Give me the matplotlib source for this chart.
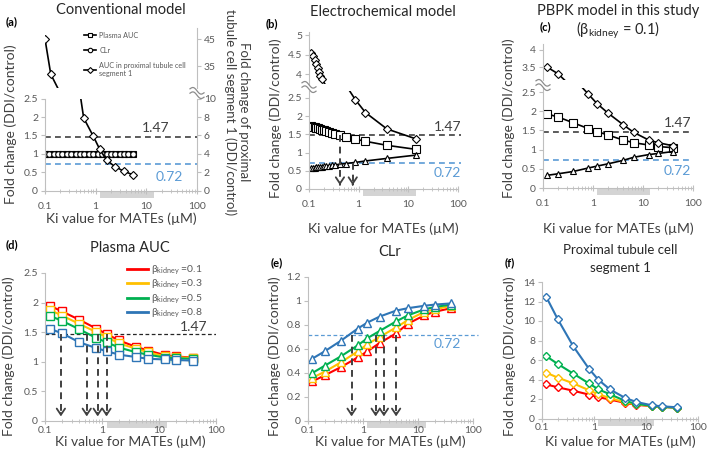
import numpy as np
import matplotlib
matplotlib.use("Agg")
import matplotlib.pyplot as plt
from matplotlib.lines import Line2D
from matplotlib.patches import Rectangle
import matplotlib.transforms as mtrans

plt.rcParams['font.family'] = ['Lato', 'DejaVu Sans']
plt.rcParams['mathtext.fontset'] = 'custom'
plt.rcParams['mathtext.rm'] = 'Lato'
plt.rcParams['mathtext.it'] = 'Lato:italic'

# ---------------- data ----------------
xticks = [0.1, 1, 10, 100]
xtick_labels = ['0.1', '1', '10', '100']
gray_range = [1.2, 14]

# (a) conventional model
a_x = [0.1, 0.12, 0.15, 0.18, 0.22, 0.27, 0.33, 0.4, 0.49, 0.6, 0.73, 0.9, 1.1, 1.35, 1.65, 2.0, 2.45, 3.0, 3.6, 4.4, 5.5]
a_auc = [1.0, 1.0, 1.0, 1.0, 1.0, 1.0, 1.0, 1.0, 1.0, 1.0, 1.0, 1.0, 1.0, 1.0, 1.0, 1.0, 1.0, 1.0, 1.0, 1.0, 1.0]
a_clr = [1.0, 1.0, 1.0, 1.0, 1.0, 1.0, 1.0, 1.0, 1.0, 1.0, 1.0, 1.0, 1.0, 1.0, 1.0, 1.0, 1.0, 1.0, 1.0, 1.0, 1.0]
a_prox_x = [0.1, 0.13, 0.58, 0.9, 1.2, 1.65, 2.4, 3.6, 5.5]
a_prox = [45, 32, 7.9, 5.9, 4.5, 3.3, 2.6, 2.1, 1.7]

# (b) electrochemical model
b_x = [0.11, 0.12, 0.13, 0.14, 0.15, 0.165, 0.18, 0.2, 0.22, 0.25, 0.29, 0.34, 0.42, 0.55, 0.86, 1.37, 3.7, 14]
b_auc = [1.72, 1.71, 1.70, 1.68, 1.67, 1.65, 1.63, 1.61, 1.59, 1.57, 1.55, 1.52, 1.49, 1.44, 1.37, 1.31, 1.20, 1.09]
b_clr = [0.58, 0.585, 0.59, 0.595, 0.60, 0.61, 0.615, 0.62, 0.63, 0.64, 0.65, 0.665, 0.68, 0.70, 0.73, 0.77, 0.84, 0.93]
b_prox_x = [0.11, 0.12, 0.13, 0.14, 0.15, 0.16, 0.17, 0.18, 0.86, 1.37, 3.7, 14]
b_prox = [4.55, 4.45, 4.35, 4.25, 4.15, 4.05, 3.95, 3.88, 2.45, 2.1, 1.65, 1.38]
b_arrows_auc = [0.42]
b_arrows_clr = [0.76]

# (c) PBPK model (beta_kidney = 0.1)
c_x = [0.12, 0.2, 0.4, 0.8, 1.2, 2, 4, 6.5, 13, 20, 40]
c_auc = [1.93, 1.85, 1.70, 1.55, 1.47, 1.38, 1.25, 1.18, 1.12, 1.08, 1.05]
c_clr = [0.33, 0.37, 0.43, 0.52, 0.57, 0.63, 0.72, 0.80, 0.87, 0.90, 0.95]
c_prox_x = [0.12, 0.2, 0.8, 1.2, 2, 4, 6.5, 13, 20, 40]
c_prox = [3.5, 3.3, 2.45, 2.2, 1.95, 1.65, 1.45, 1.25, 1.18, 1.1]

# (d)-(f) beta_kidney sensitivity
ki = [0.12, 0.2, 0.4, 0.8, 1.2, 2, 4, 6.5, 13, 20, 40]
betas = ['0.1', '0.3', '0.5', '0.8']
colors = ['#FF0000', '#FFC000', '#00B050', '#2E75B6']
d_auc = {
    '0.1': [1.95, 1.85, 1.71, 1.56, 1.47, 1.36, 1.25, 1.19, 1.11, 1.09, 1.07],
    '0.3': [1.88, 1.78, 1.64, 1.50, 1.42, 1.31, 1.22, 1.16, 1.09, 1.08, 1.06],
    '0.5': [1.78, 1.69, 1.55, 1.40, 1.33, 1.24, 1.16, 1.12, 1.07, 1.06, 1.05],
    '0.8': [1.56, 1.48, 1.33, 1.23, 1.18, 1.12, 1.08, 1.05, 1.04, 1.03, 1.02],
}
e_clr = {
    '0.1': [0.33, 0.38, 0.45, 0.53, 0.58, 0.65, 0.73, 0.81, 0.88, 0.91, 0.94],
    '0.3': [0.36, 0.41, 0.49, 0.58, 0.64, 0.70, 0.78, 0.84, 0.91, 0.93, 0.96],
    '0.5': [0.40, 0.46, 0.54, 0.63, 0.69, 0.75, 0.83, 0.88, 0.93, 0.95, 0.97],
    '0.8': [0.52, 0.58, 0.67, 0.77, 0.82, 0.87, 0.92, 0.94, 0.96, 0.97, 0.98],
}
f_prox = {
    '0.1': [3.5, 3.2, 2.85, 2.45, 2.2, 1.95, 1.6, 1.4, 1.27, 1.2, 1.1],
    '0.3': [4.7, 4.2, 3.6, 2.9, 2.5, 2.1, 1.65, 1.45, 1.28, 1.2, 1.1],
    '0.5': [6.4, 5.6, 4.6, 3.6, 3.0, 2.5, 1.8, 1.5, 1.3, 1.2, 1.1],
    '0.8': [12.5, 10.2, 7.4, 5.1, 4.0, 3.0, 2.1, 1.7, 1.35, 1.25, 1.15],
}
d_arrows = [0.19, 0.54, 0.84, 1.2]
e_arrows = [0.62, 1.7, 2.4, 4.0]
thr_auc = 1.47
thr_clr = 0.72

# ---------------- figure ----------------
W, H = 709, 458
fig = plt.figure(figsize=(W / 100, H / 100), dpi=100)
SP = '#bfbfbf'
TC = '#595959'
DARK = '#404040'
BLUE_T = '#5B9BD5'


def px_axes(l, t, r, b):
    return fig.add_axes([l / W, 1 - b / H, (r - l) / W, (b - t) / H])


def style(ax, xaxis=True, left=True, pad=6):
    ax.set_xscale('log')
    ax.set_xlim(0.1, 100)
    ax.patch.set_alpha(0)
    for s in ['top', 'right']:
        ax.spines[s].set_visible(False)
    ax.spines['left'].set_visible(left)
    ax.spines['left'].set_color(SP)
    ax.spines['bottom'].set_color(SP)
    ax.spines['left'].set_linewidth(0.8)
    ax.spines['bottom'].set_linewidth(0.8)
    ax.tick_params(axis='y', direction='out', length=3, color=SP, labelsize=7.5,
                   labelcolor=TC, pad=2, width=0.8)
    if xaxis:
        ax.set_xticks(xticks)
        ax.set_xticklabels(xtick_labels)
        ax.tick_params(axis='x', which='major', direction='inout', length=4, color=SP,
                       labelsize=7.5, labelcolor=TC, pad=pad, width=0.8)
        ax.tick_params(axis='x', which='minor', direction='inout', length=3, color=SP, width=0.6)
        ax.xaxis.set_minor_formatter(matplotlib.ticker.NullFormatter())
    else:
        ax.spines['bottom'].set_visible(False)
        ax.tick_params(axis='x', which='both', bottom=False, labelbottom=False)


def gray_bar(ax, height_px):
    tr = mtrans.blended_transform_factory(ax.transData, ax.transAxes)
    h = ax.get_position().height * H
    ax.add_patch(Rectangle((gray_range[0], -(height_px + 1) / h), gray_range[1] - gray_range[0],
                           height_px / h, transform=tr, color='#d4d4d4', clip_on=False, zorder=1,
                           lw=0))


def squiggle(xp, yp):
    t = np.linspace(-1, 1, 30)
    for off in (-2.2, 2.2):
        xs = xp + 7 * t
        ys = yp + off + 2.2 * np.sin(np.pi * t) + 2.0 * t
        ln = Line2D(xs / W, 1 - ys / H, transform=fig.transFigure, color='#8c8c8c', lw=0.9)
        fig.add_artist(ln)


def arrow(ax, x, ytop, ytip, headlen):
    ax.plot([x, x], [ytop, ytip + headlen], ls=(0, (3.5, 2.5)), color=DARK, lw=1.4, zorder=5)
    ax.annotate('', xy=(x, ytip), xytext=(x, ytip + headlen * 1.2),
                arrowprops=dict(arrowstyle='->,head_width=0.3,head_length=0.45', color=DARK, lw=1.3),
                zorder=6)


def ftext(x, y, s, **kw):
    kw.setdefault('ha', 'center')
    kw.setdefault('va', 'center')
    fig.text(x / W, 1 - y / H, s, **kw)


mk_bk = dict(color='black', lw=1.2, markerfacecolor='white', markeredgecolor='black', markeredgewidth=0.8)

# ----- (a) -----
axa = px_axes(45, 98.7, 197, 190.5)
axa.set_ylim(0, 2.5)
axa.axhline(thr_auc, color=DARK, ls=(0, (3.5, 2.5)), lw=1.2)
axa.axhline(thr_clr, color=BLUE_T, ls=(0, (3.5, 2.5)), lw=1.2)
axa.plot(a_x, a_auc, marker='s', ms=4.2, **mk_bk)
axa.plot(a_x, a_clr, marker='o', ms=4.0, **mk_bk)
axar = axa.twinx()
axar.set_ylim(0, 10)
for s in ['top', 'left', 'bottom']:
    axar.spines[s].set_visible(False)
axar.spines['right'].set_color(SP)
axar.spines['right'].set_linewidth(0.8)
axar.set_yticks([0, 2, 4, 6, 8, 10])
axar.tick_params(axis='y', direction='out', length=3, color=SP, labelsize=7.5, labelcolor=TC, pad=2)
axar.plot(a_prox_x, a_prox, marker='D', ms=3.6, **mk_bk)
style(axa, pad=6)
axa.set_ylim(0, 2.5)
axa.set_yticks([0, 0.5, 1, 1.5, 2, 2.5])
axa.set_yticklabels(['0', '0.5', '1', '1.5', '2', '2.5'])
axar.tick_params(axis='x', which='both', bottom=False, top=False, labelbottom=False, labeltop=False)
ta = mtrans.blended_transform_factory(axa.transAxes, axa.transData)
axa.text(0.82, thr_auc + 0.08, '1.47', transform=ta, ha='right', va='bottom', fontsize=10, color=DARK)
axa.text(0.91, thr_clr - 0.2, '0.72', transform=ta, ha='right', va='top', fontsize=10, color=BLUE_T)
gray_bar(axa, 6)

axau = px_axes(45, 28, 197, 88)
axau.set_xscale('log'); axau.set_xlim(0.1, 100)
axau.patch.set_alpha(0)
axau.set_ylim(26.9, 49.1)
for s in ['top', 'left', 'bottom']:
    axau.spines[s].set_visible(False)
axau.spines['right'].set_color(SP)
axau.spines['right'].set_linewidth(0.8)
axau.yaxis.tick_right()
axau.set_yticks([35, 45])
axau.tick_params(axis='y', direction='out', length=3, color=SP, labelsize=7.5, labelcolor=TC, pad=2)
axau.tick_params(axis='x', which='both', bottom=False, labelbottom=False)
axau.plot(a_prox_x, a_prox, marker='D', ms=3.6, **mk_bk)
leg_h = [Line2D([], [], marker='s', ms=3.2, **mk_bk),
         Line2D([], [], marker='o', ms=3.2, **mk_bk),
         Line2D([], [], marker='D', ms=3.0, **mk_bk)]
lg = axau.legend(leg_h, ['Plasma AUC', 'CLr', 'AUC in proximal tubule cell\nsegment 1'],
                 loc='upper left', bbox_to_anchor=(84 / W, 1 - 32 / H), bbox_transform=fig.transFigure,
                 fontsize=5.2, frameon=False, handlelength=1.6, handletextpad=0.5, labelspacing=1.1,
                 borderpad=0, borderaxespad=0)
for t in lg.get_texts():
    t.set_color(TC)
squiggle(197, 93)

# ----- (b) -----
axb = px_axes(309, 90.7, 458, 189)
style(axb, pad=6)
axb.set_ylim(0, 2.7)
axb.set_yticks([0, 0.5, 1, 1.5, 2, 2.5])
axb.set_yticklabels(['0', '0.5', '1', '1.5', '2', '2.5'])
tb = mtrans.blended_transform_factory(axb.transAxes, axb.transData)
axb.plot([0, 1.02], [thr_auc, thr_auc], transform=tb, color=DARK, ls=(0, (3.5, 2.5)), lw=1.2, clip_on=False)
axb.plot([0, 1.02], [thr_clr, thr_clr], transform=tb, color=BLUE_T, ls=(0, (3.5, 2.5)), lw=1.2, clip_on=False)
axb.plot(b_x, b_auc, marker='s', ms=5.5, **mk_bk)
axb.plot(b_x, b_clr, marker='^', ms=5.0, **mk_bk)
axb.plot(b_prox_x, b_prox, marker='D', ms=4.0, **mk_bk)
for x in b_arrows_auc:
    arrow(axb, x, thr_auc, 0.03, 0.15)
for x in b_arrows_clr:
    arrow(axb, x, thr_clr, 0.03, 0.15)
axb.text(1.02, thr_auc + 0.07, '1.47', transform=tb, ha='right', va='bottom', fontsize=10, color=DARK)
axb.text(1.02, thr_clr - 0.12, '0.72', transform=tb, ha='right', va='top', fontsize=10, color=BLUE_T)
gray_bar(axb, 6)

axbu = px_axes(309, 32, 458, 84)
style(axbu, xaxis=False)
axbu.set_ylim(3.744, 5.077)
axbu.set_yticks([4, 4.5, 5])
axbu.set_yticklabels(['4', '4.5', '5'])
axbu.plot(b_prox_x, b_prox, marker='D', ms=4.0, **mk_bk)
squiggle(309, 87)

# ----- (c) -----
axc = px_axes(543, 88.2, 693, 188)
style(axc, pad=6)
axc.set_ylim(0, 2.6)
axc.set_yticks([0, 0.5, 1, 1.5, 2, 2.5])
axc.set_yticklabels(['0', '0.5', '1', '1.5', '2', '2.5'])
tc = mtrans.blended_transform_factory(axc.transAxes, axc.transData)
axc.plot([0, 1.0], [thr_auc, thr_auc], transform=tc, color=DARK, ls=(0, (3.5, 2.5)), lw=1.2, clip_on=False)
axc.plot([0, 1.0], [thr_clr, thr_clr], transform=tc, color=BLUE_T, ls=(0, (3.5, 2.5)), lw=1.2, clip_on=False)
axc.plot(c_x, c_auc, marker='s', ms=5.5, **mk_bk)
axc.plot(c_x, c_clr, marker='^', ms=5.0, **mk_bk)
axc.plot(c_prox_x, c_prox, marker='D', ms=4.0, **mk_bk)
axc.text(0.99, thr_auc + 0.07, '1.47', transform=tc, ha='right', va='bottom', fontsize=10, color=DARK)
axc.text(0.99, thr_clr - 0.12, '0.72', transform=tc, ha='right', va='top', fontsize=10, color=BLUE_T)
gray_bar(axc, 6)

axcu = px_axes(543, 44, 693, 80)
style(axcu, xaxis=False)
axcu.set_ylim(3.118, 4.176)
axcu.set_yticks([3.5, 4])
axcu.set_yticklabels(['3.5', '4'])
axcu.plot(c_prox_x, c_prox, marker='D', ms=4.0, **mk_bk)
squiggle(543, 85)

# ----- (d) -----
axd = px_axes(45, 273, 216, 421)
style(axd, pad=1.5)
axd.set_ylim(0, 2.5)
axd.set_yticks([0, 0.5, 1, 1.5, 2, 2.5])
axd.set_yticklabels(['0', '0.5', '1', '1.5', '2', '2.5'])
axd.axhline(thr_auc, color='#262626', ls=(0, (3, 2)), lw=0.9)
hs = []
for b, c in zip(betas, colors):
    axd.plot(ki, d_auc[b], color=c, lw=1.5, marker='s', ms=5.5, markerfacecolor='white',
             markeredgecolor=c, markeredgewidth=1.0)
    hs.append(Line2D([], [], color=c, lw=2))
for x in d_arrows:
    arrow(axd, x, thr_auc, 0.03, 0.13)
td = mtrans.blended_transform_factory(axd.transAxes, axd.transData)
axd.text(0.95, thr_auc + 0.015, '1.47', transform=td, ha='right', va='bottom', fontsize=10, color=DARK)
gray_bar(axd, 6)
lg = axd.legend(hs, [r'$\mathrm{\beta}_{\mathrm{kidney}}$ =' + b for b in betas], loc='upper left',
                bbox_to_anchor=(127 / W, 1 - 264 / H), bbox_transform=fig.transFigure, fontsize=7.5,
                frameon=False, handlelength=2.0, handletextpad=0.3, labelspacing=0.12, borderpad=0,
                borderaxespad=0)
for t in lg.get_texts():
    t.set_color(TC)

# ----- (e) -----
axe = px_axes(308, 277, 473, 421)
style(axe, pad=1.5)
axe.set_ylim(0, 1.2)
axe.set_yticks([0, 0.2, 0.4, 0.6, 0.8, 1, 1.2])
axe.set_yticklabels(['0', '0.2', '0.4', '0.6', '0.8', '1', '1.2'])
te = mtrans.blended_transform_factory(axe.transAxes, axe.transData)
axe.plot([0, 1.03], [thr_clr, thr_clr], transform=te, color=BLUE_T, ls=(0, (3, 2)), lw=0.9, clip_on=False)
for b, c in zip(betas, colors):
    axe.plot(ki, e_clr[b], color=c, lw=1.5, marker='^', ms=5.5, markerfacecolor='white',
             markeredgecolor=c, markeredgewidth=1.0)
for x in e_arrows:
    arrow(axe, x, thr_clr, 0.015, 0.065)
axe.text(0.93, thr_clr - 0.03, '0.72', transform=te, ha='right', va='top', fontsize=10, color=BLUE_T)
gray_bar(axe, 6)

# ----- (f) -----
axf = px_axes(542, 282, 698, 418.5)
style(axf, pad=1.5)
axf.set_ylim(0, 14)
axf.set_yticks([0, 2, 4, 6, 8, 10, 12, 14])
for b, c in zip(betas, colors):
    axf.plot(ki, f_prox[b], color=c, lw=1.5, marker='D', ms=4.3, markerfacecolor='white',
             markeredgecolor=c, markeredgewidth=1.0)
gray_bar(axf, 6)

# ----- texts -----
ylab = 'Fold change (DDI/control)'
xlab = 'Ki value for MATEs (\u00b5M)'
ftext(121, 10, 'Conventional model', fontsize=10.5, color='#262626')
ftext(383, 12, 'Electrochemical model', fontsize=10.5, color='#262626')
ftext(618, 11, 'PBPK model in this study', fontsize=10.5, color='#262626')
ftext(618, 30, r'($\mathrm{\beta}_{\mathrm{kidney}}$ = 0.1)', fontsize=10.5, color='#262626')
ftext(12, 22, '(a)', fontsize=8, fontweight='bold', color='black')
ftext(272, 24, '(b)', fontsize=8, fontweight='bold', color='black')
ftext(545, 27, '(c)', fontsize=8, fontweight='bold', color='black')
ftext(12, 245, '(d)', fontsize=8, fontweight='bold', color='black')
ftext(277, 263, '(e)', fontsize=8, fontweight='bold', color='black')
ftext(510, 263, '(f)', fontsize=8, fontweight='bold', color='black')
ftext(130, 248, 'Plasma AUC', fontsize=10.5, color='#262626')
ftext(390, 252, 'CLr', fontsize=10.5, color='#262626')
ftext(620, 250, 'Proximal tubule cell', fontsize=9.5, color='#262626')
ftext(620, 268, 'segment 1', fontsize=9.5, color='#262626')

ftext(11, 124, ylab, fontsize=10, rotation=90, color=DARK)
ftext(276, 118, ylab, fontsize=10, rotation=90, color=DARK)
ftext(509, 118, ylab, fontsize=10, rotation=90, color=DARK)
ftext(9, 356, ylab, fontsize=10, rotation=90, color=DARK)
ftext(275, 356, ylab, fontsize=10, rotation=90, color=DARK)
ftext(510, 356, ylab, fontsize=10, rotation=90, color=DARK)
ftext(237, 112, 'Fold change of proximal\ntubule cell segment 1 (DDI/control)', fontsize=9.5,
      rotation=270, color=DARK, linespacing=1.2)

ftext(121, 219, xlab, fontsize=10, color=DARK)
ftext(383, 229, xlab, fontsize=10, color=DARK)
ftext(618, 229, xlab, fontsize=10, color=DARK)
ftext(130, 442, xlab, fontsize=10, color=DARK)
ftext(390, 442, xlab, fontsize=10, color=DARK)
ftext(620, 442, xlab, fontsize=10, color=DARK)

fig.savefig('out.png', dpi=100)
